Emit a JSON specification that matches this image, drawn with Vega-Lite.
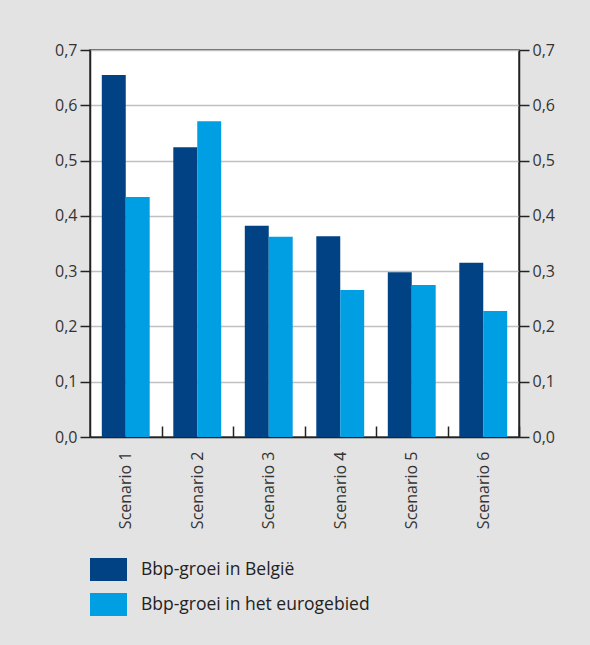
{
  "$schema": "https://vega.github.io/schema/vega-lite/v6.json",
  "autosize": "none",
  "width": 429,
  "height": 387,
  "padding": {"left": 90, "top": 50, "right": 71, "bottom": 208},
  "background": "#e3e3e3",
  "config": {
    "font": "Open Sans",
    "view": {"fill": "white", "stroke": "#333333", "strokeWidth": 1.5},
    "axis": {"labelFont": "Open Sans", "labelFontSize": 16, "labelColor": "#333333", "domainColor": "#222222", "tickColor": "#222222", "domainWidth": 1.5, "tickWidth": 1.5}
  },
  "data": {
    "values": [
      {"scenario": "Scenario 1", "series": "Bbp-groei in België", "value": 0.655},
      {"scenario": "Scenario 1", "series": "Bbp-groei in het eurogebied", "value": 0.434},
      {"scenario": "Scenario 2", "series": "Bbp-groei in België", "value": 0.524},
      {"scenario": "Scenario 2", "series": "Bbp-groei in het eurogebied", "value": 0.571},
      {"scenario": "Scenario 3", "series": "Bbp-groei in België", "value": 0.382},
      {"scenario": "Scenario 3", "series": "Bbp-groei in het eurogebied", "value": 0.362},
      {"scenario": "Scenario 4", "series": "Bbp-groei in België", "value": 0.363},
      {"scenario": "Scenario 4", "series": "Bbp-groei in het eurogebied", "value": 0.266},
      {"scenario": "Scenario 5", "series": "Bbp-groei in België", "value": 0.298},
      {"scenario": "Scenario 5", "series": "Bbp-groei in het eurogebied", "value": 0.275},
      {"scenario": "Scenario 6", "series": "Bbp-groei in België", "value": 0.315},
      {"scenario": "Scenario 6", "series": "Bbp-groei in het eurogebied", "value": 0.228}
    ]
  },
  "encoding": {
    "x": {
      "field": "scenario", "type": "nominal", "title": null,
      "scale": {"paddingInner": 0.33, "paddingOuter": 0.165},
      "axis": {"labelAngle": -90, "labelAlign": "right", "labelBaseline": "middle", "tickOffset": 35.75, "labelOffset": -35.75, "tickSize": -11, "labelPadding": 25, "domain": true}
    },
    "xOffset": {"field": "series", "type": "nominal", "scale": {"paddingInner": 0, "paddingOuter": 0}},
    "color": {
      "field": "series", "type": "nominal", "title": null,
      "scale": {"domain": ["Bbp-groei in België", "Bbp-groei in het eurogebied"], "range": ["#004284", "#009fe3"]},
      "legend": {
        "orient": "none", "legendX": 0, "legendY": 501, "direction": "vertical", "padding": 0,
        "symbolType": "M-1,-0.62L1,-0.62L1,0.62L-1,0.62Z", "symbolSize": 1369, "symbolStrokeWidth": 0,
        "symbolOpacity": 1, "labelFontSize": 17.5, "labelColor": "#222222", "labelOffset": 14, "rowPadding": 5, "labelFont": "Open Sans", "labelLimit": 400
      }
    }
  },
  "layer": [
    {
      "mark": {"type": "bar"},
      "encoding": {
        "y": {
          "field": "value", "type": "quantitative", "title": null,
          "scale": {"domain": [0, 0.7], "nice": false},
          "axis": {"orient": "left", "values": [0, 0.1, 0.2, 0.3, 0.4, 0.5, 0.6, 0.7], "labelExpr": "replace(format(datum.value, '.1f'), '.', ',')", "tickSize": 10, "labelPadding": 3, "grid": true, "gridColor": "#c0c0c0", "gridWidth": 1.5}
        }
      }
    },
    {
      "mark": {"type": "bar", "opacity": 0},
      "encoding": {
        "y": {
          "field": "value", "type": "quantitative", "title": null,
          "scale": {"domain": [0, 0.7], "nice": false},
          "axis": {"orient": "right", "values": [0, 0.1, 0.2, 0.3, 0.4, 0.5, 0.6, 0.7], "labelExpr": "replace(format(datum.value, '.1f'), '.', ',')", "tickSize": 10, "labelPadding": 3, "grid": false}
        }
      }
    }
  ],
  "resolve": {"scale": {"y": "independent"}}
}
